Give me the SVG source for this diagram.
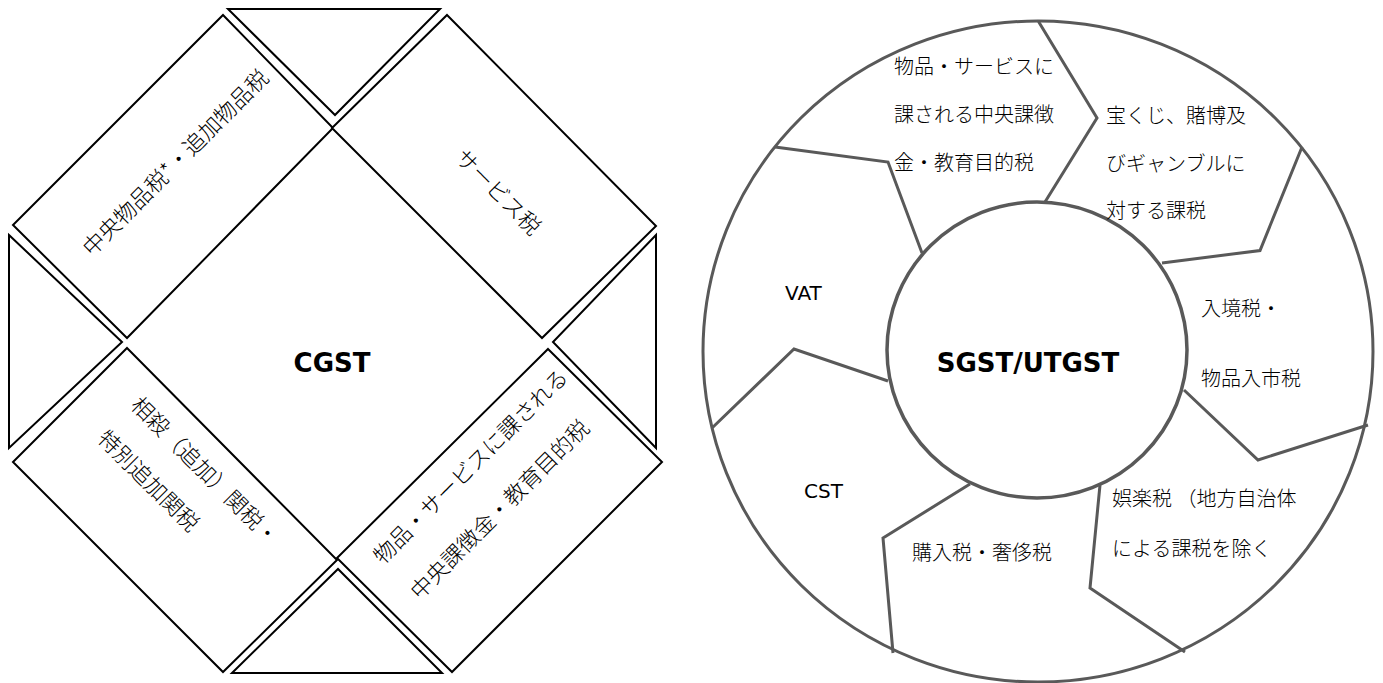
<svg xmlns="http://www.w3.org/2000/svg" width="1383" height="683" viewBox="0 0 1383 683">
<style>
.sh{fill:#fff;stroke:#000;stroke-width:2;stroke-linejoin:miter}
.jp{font-family:"Noto Sans CJK JP","Noto Sans CJK SC",sans-serif;font-size:22px;font-weight:300;fill:#000}
.jr{font-family:"Noto Sans CJK JP","Noto Sans CJK SC",sans-serif;font-size:20px;font-weight:300;fill:#000}
.lat{font-family:"DejaVu Sans","Liberation Sans",sans-serif;font-size:20px;fill:#000}
.big{font-family:"DejaVu Sans","Liberation Sans",sans-serif;font-size:26px;font-weight:bold;fill:#000}
.gr{fill:none;stroke:#595959;stroke-width:3;stroke-linejoin:miter}
</style>
<rect width="1383" height="683" fill="#fff"/>
<!-- Left diagram -->
<g id="cgst-left">
  <g id="tri-top"><polygon class="sh" points="228,9 440,9 335,115"/></g>
  <g id="tri-left"><polygon class="sh" points="9,235 122,342 9,448"/></g>
  <g id="tri-right"><polygon class="sh" points="656,235 553,342 656,448"/></g>
  <g id="tri-bottom"><polygon class="sh" points="232,673 338,569 442,673"/></g>
  <g id="rect-tl">
    <polygon class="sh" points="223,15 333,128 127,338 13,225"/>
    <g transform="rotate(-45)"><text class="jp" x="9" y="247" text-anchor="middle">中央物品税*・追加物品税</text></g>
  </g>
  <g id="rect-tr">
    <polygon class="sh" points="447,15 656,226 542,338 332,128"/>
    <g transform="rotate(45)"><text class="jp" x="488" y="-208.5" text-anchor="middle">サービス税</text></g>
  </g>
  <g id="rect-bl">
    <polygon class="sh" points="127,348 337,560 223,672 13,462"/>
    <g transform="rotate(45)">
      <text class="jp" x="379" y="196">相殺（追加）関税・</text>
      <text class="jp" x="379" y="243">特別追加関税</text>
    </g>
  </g>
  <g id="rect-br">
    <polygon class="sh" points="548,349 662,462 452,672 337,558"/>
    <g transform="rotate(-45)">
      <text class="jp" x="-129" y="670.5">物品・サービスに課される</text>
      <text class="jp" x="-128" y="721.5">中央課徴金・教育目的税</text>
    </g>
  </g>
  <g id="center-cgst"><text class="big" x="332" y="372" text-anchor="middle">CGST</text></g>
</g>
<!-- Right diagram -->
<g id="sgst-right">
  <g id="ring"><ellipse class="gr" cx="1038" cy="351.5" rx="335" ry="330.5"/></g>
  <g id="dividers">
    <polyline class="gr" points="775,147 888,162 922,253"/>
    <polyline class="gr" points="1038.5,21.5 1097,118 1045,202"/>
    <polyline class="gr" points="1302,147 1260,250.5 1162,263"/>
    <polyline class="gr" points="1184,390 1258,460 1368,425"/>
    <polyline class="gr" points="1100,485 1090,588 1185,652"/>
    <polyline class="gr" points="970,484 883,538 893,653"/>
    <polyline class="gr" points="888,381 794,349 712,428"/>
  </g>
  <g id="hub">
    <ellipse cx="1037" cy="350" rx="150" ry="148" fill="#fff" stroke="#595959" stroke-width="3.5"/>
    <text class="big" x="1028" y="371.5" text-anchor="middle">SGST/UTGST</text>
  </g>
  <g id="seg-central-levy">
    <text class="jr" x="894" y="73.5">物品・サービスに</text>
    <text class="jr" x="894" y="121.5">課される中央課徴</text>
    <text class="jr" x="894" y="169.5">金・教育目的税</text>
  </g>
  <g id="seg-lottery">
    <text class="jr" x="1106" y="122.5">宝くじ、賭博及</text>
    <text class="jr" x="1106" y="171">びギャンブルに</text>
    <text class="jr" x="1106" y="217.5">対する課税</text>
  </g>
  <g id="seg-entry">
    <text class="jr" x="1201" y="315.5">入境税・</text>
    <text class="jr" x="1201" y="386">物品入市税</text>
  </g>
  <g id="seg-entertainment">
    <text class="jr" x="1112" y="506">娯楽税 （地方自治体</text>
    <text class="jr" x="1112" y="556">による課税を除く</text>
  </g>
  <g id="seg-purchase"><text class="jr" x="912" y="559.5">購入税・奢侈税</text></g>
  <g id="seg-cst"><text class="lat" x="804" y="498">CST</text></g>
  <g id="seg-vat"><text class="lat" x="785" y="300">VAT</text></g>
</g>
</svg>
